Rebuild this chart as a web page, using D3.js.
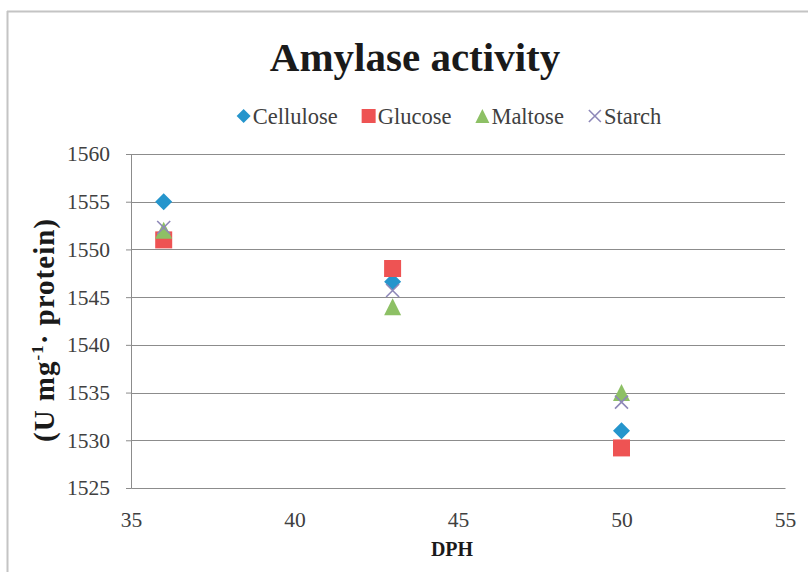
<!DOCTYPE html>
<html>
<head>
<meta charset="utf-8">
<script src="https://cdn.jsdelivr.net/npm/d3@7"></script>
<style>
  html, body { margin: 0; padding: 0; background: #fff; }
  svg { display: block; }
</style>
</head>
<body>
<svg id="chart" width="808" height="572"></svg>
<script>
const seriesNames = ["Cellulose", "Glucose", "Maltose", "Starch"];
const dph = [36, 43, 50];
const cellulose = [1555, 1546.6, 1531];
const glucose = [1551, 1548, 1529.2];
const maltose = [1552, 1544, 1535];
const starch = [1552.3, 1545.7, 1534];
const xTicks = [35, 40, 45, 50, 55];
const yTicks = [1525, 1530, 1535, 1540, 1545, 1550, 1555, 1560];
const colors = ["#2595cc", "#ee5353", "#8dc065", "#8e88b8"];
const shapes = ["diamond", "square", "triangle", "cross"];

const allValues = [cellulose, glucose, maltose, starch];
const series = seriesNames.map((name, i) => ({
  name, color: colors[i], shape: shapes[i],
  points: dph.map((d, j) => ({ x: d, y: allValues[i][j] }))
}));

const svg = d3.select("#chart");
const font = "'Liberation Serif', 'Times New Roman', serif";

// outer border
svg.append("line").attr("x1", 7).attr("x2", 808).attr("y1", 11.5).attr("y2", 11.5)
  .attr("stroke", "#c4c4c4").attr("stroke-width", 2);
svg.append("line").attr("x1", 7.5).attr("x2", 7.5).attr("y1", 11).attr("y2", 572)
  .attr("stroke", "#c4c4c4").attr("stroke-width", 2);

const x = d3.scaleLinear().domain([35, 55]).range([131, 785]);
const y = d3.scaleLinear().domain([1525, 1560]).range([488, 154]);

// gridlines
svg.append("g").selectAll("line").data(yTicks.filter(t => t !== 1525)).join("line")
  .attr("x1", x(35)).attr("x2", x(55))
  .attr("y1", d => Math.round(y(d)) + 0.5).attr("y2", d => Math.round(y(d)) + 0.5)
  .attr("stroke", "#8c8c8c").attr("stroke-width", 1.2);

// y axis
const yAxis = svg.append("g").attr("transform", `translate(${x(35)},0)`)
  .call(d3.axisLeft(y).tickValues(yTicks).tickSize(5).tickPadding(16).tickFormat(d3.format("d")));
yAxis.select(".domain").attr("stroke", "#8c8c8c");
yAxis.selectAll(".tick line").attr("stroke", "#8c8c8c");
yAxis.selectAll("text").attr("font-family", font).attr("font-size", 21.5).attr("fill", "#404040");

// x axis
const xAxis = svg.append("g").attr("transform", `translate(0,${y(1525)})`)
  .call(d3.axisBottom(x).tickValues(xTicks).tickSize(0).tickPadding(24).tickFormat(d3.format("d")));
xAxis.select(".domain").attr("stroke", "#8c8c8c").attr("stroke-width", 1.2);
xAxis.selectAll("text").attr("font-family", font).attr("font-size", 21.5).attr("fill", "#404040");

// marker drawing
function markerPath(shape, s) {
  const h = s / 2;
  if (shape === "diamond") return `M0,${-h}L${h},0L0,${h}L${-h},0Z`;
  if (shape === "square") return `M${-h},${-h}H${h}V${h}H${-h}Z`;
  if (shape === "triangle") return `M0,${-h}L${h},${h}L${-h},${h}Z`;
  return `M${-h},${-h}L${h},${h}M${h},${-h}L${-h},${h}`;
}
function drawMarker(g, shape, color, s) {
  const p = g.append("path").attr("d", markerPath(shape, s));
  if (shape === "cross") p.attr("fill", "none").attr("stroke", color).attr("stroke-width", 1.6);
  else p.attr("fill", color);
}

// points
series.forEach(s => {
  const g = svg.append("g");
  s.points.forEach(p => {
    const m = g.append("g").attr("transform", `translate(${x(p.x)},${y(p.y)})`);
    drawMarker(m, s.shape, s.color, s.shape === "cross" ? 13 : 17);
  });
});

// title
svg.append("text").attr("x", 415).attr("y", 71).attr("text-anchor", "middle")
  .attr("font-family", font).attr("font-weight", "bold").attr("font-size", 41)
  .attr("fill", "#1a1a1a").text("Amylase activity");

// legend
const legend = svg.append("g");
let lx = 0;
series.forEach((s, i) => {
  const item = legend.append("g").attr("transform", `translate(${lx},0)`);
  drawMarker(item.append("g").attr("transform", "translate(7,0)"), s.shape, s.color, s.shape === "cross" ? 12 : 14);
  const t = item.append("text").attr("x", 16).attr("y", 7.5)
    .attr("font-family", font).attr("font-size", 22.5).attr("fill", "#404040").text(s.name);
  lx += 16 + t.node().getComputedTextLength() + 24;
});
const legW = lx - 24;
legend.attr("transform", `translate(${449 - legW / 2},116)`);

// axis titles
svg.append("text").attr("x", 452).attr("y", 556).attr("text-anchor", "middle")
  .attr("font-family", font).attr("font-weight", "bold").attr("font-size", 20)
  .attr("fill", "#1a1a1a").text("DPH");

const yl = svg.append("text").attr("transform", "translate(54,330) rotate(-90)")
  .attr("text-anchor", "start").attr("font-family", font).attr("font-weight", "bold")
  .attr("font-size", 29).attr("letter-spacing", 1).attr("fill", "#1a1a1a");
yl.append("tspan").text("(U mg");
yl.append("tspan").attr("dy", -11).attr("font-size", 17).text("-1");
yl.append("tspan").attr("dy", 11).text("· protein)");
const ylLen = yl.node().getComputedTextLength();
yl.attr("x", -ylLen / 2);
</script>
</body>
</html>
